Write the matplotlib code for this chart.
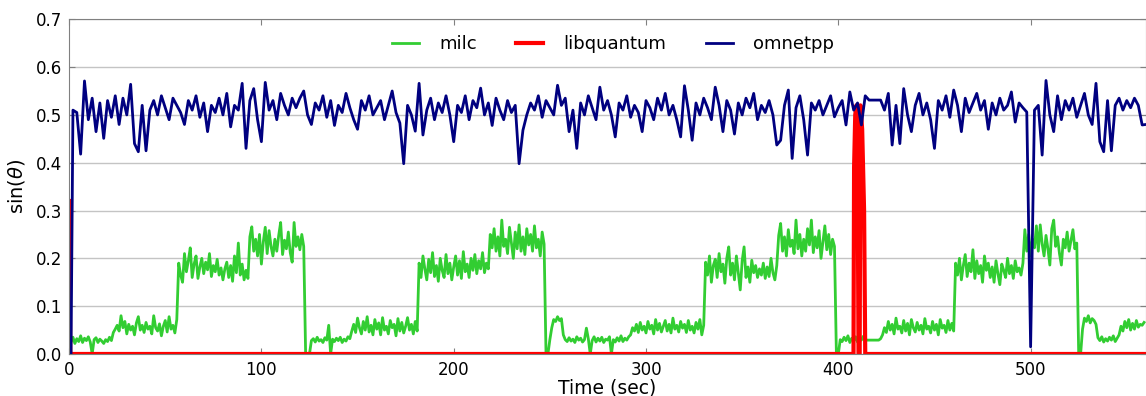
"""sin(theta) over time for three co-running SPEC workloads."""

import matplotlib
matplotlib.use("Agg")
import matplotlib.pyplot as plt
import numpy as np

# milc, one sample per second (t = 0 .. 559)
milc_vals = [
    0.030, 0.025, 0.035, 0.022, 0.032, 0.026, 0.038, 0.024, 0.033, 0.028, 0.036, 0.025, 0.000, 0.030, 0.034, 0.024, 0.031, 0.027, 0.022, 0.030,
    0.026, 0.035, 0.028, 0.045, 0.052, 0.060, 0.048, 0.080, 0.055, 0.068, 0.042, 0.062, 0.050, 0.058, 0.040, 0.065, 0.078, 0.050, 0.060, 0.045,
    0.066, 0.052, 0.058, 0.042, 0.080, 0.055, 0.048, 0.063, 0.038, 0.058, 0.070, 0.046, 0.078, 0.052, 0.060, 0.044, 0.072, 0.190, 0.165, 0.150,
    0.210, 0.172, 0.195, 0.222, 0.160, 0.188, 0.205, 0.158, 0.182, 0.200, 0.168, 0.192, 0.176, 0.210, 0.162, 0.185, 0.172, 0.198, 0.165, 0.180,
    0.155, 0.178, 0.192, 0.160, 0.185, 0.152, 0.205, 0.170, 0.232, 0.165, 0.188, 0.155, 0.175, 0.158, 0.245, 0.266, 0.215, 0.240, 0.205, 0.250,
    0.188, 0.235, 0.265, 0.210, 0.258, 0.225, 0.205, 0.240, 0.215, 0.248, 0.275, 0.208, 0.238, 0.220, 0.255, 0.212, 0.192, 0.275, 0.225, 0.245,
    0.218, 0.250, 0.225, 0.000, 0.000, 0.000, 0.028, 0.032, 0.025, 0.035, 0.027, 0.030, 0.024, 0.034, 0.029, 0.060, 0.000, 0.031, 0.026, 0.033,
    0.028, 0.035, 0.024, 0.031, 0.027, 0.036, 0.032, 0.048, 0.062, 0.045, 0.075, 0.055, 0.042, 0.068, 0.050, 0.078, 0.046, 0.060, 0.040, 0.072,
    0.052, 0.065, 0.040, 0.076, 0.050, 0.058, 0.042, 0.070, 0.055, 0.062, 0.038, 0.074, 0.048, 0.066, 0.044, 0.058, 0.076, 0.050, 0.062, 0.042,
    0.068, 0.048, 0.190, 0.160, 0.205, 0.178, 0.155, 0.198, 0.170, 0.212, 0.162, 0.185, 0.152, 0.200, 0.175, 0.160, 0.208, 0.168, 0.190, 0.155,
    0.182, 0.205, 0.165, 0.195, 0.158, 0.214, 0.172, 0.188, 0.160, 0.200, 0.175, 0.208, 0.168, 0.195, 0.178, 0.212, 0.170, 0.190, 0.178, 0.250,
    0.222, 0.262, 0.215, 0.245, 0.205, 0.280, 0.225, 0.240, 0.210, 0.265, 0.232, 0.200, 0.255, 0.220, 0.270, 0.215, 0.245, 0.208, 0.262, 0.228,
    0.250, 0.215, 0.268, 0.222, 0.240, 0.205, 0.255, 0.230, 0.000, 0.000, 0.030, 0.055, 0.072, 0.068, 0.078, 0.070, 0.074, 0.040, 0.030, 0.026,
    0.034, 0.027, 0.031, 0.024, 0.036, 0.029, 0.033, 0.025, 0.030, 0.054, 0.032, 0.000, 0.028, 0.036, 0.025, 0.033, 0.027, 0.035, 0.024, 0.031,
    0.029, 0.036, 0.000, 0.030, 0.025, 0.034, 0.027, 0.038, 0.026, 0.033, 0.029, 0.036, 0.040, 0.055, 0.048, 0.062, 0.045, 0.066, 0.050, 0.058,
    0.044, 0.068, 0.052, 0.060, 0.042, 0.072, 0.050, 0.064, 0.046, 0.058, 0.070, 0.048, 0.062, 0.044, 0.075, 0.052, 0.060, 0.046, 0.068, 0.054,
    0.062, 0.045, 0.070, 0.050, 0.058, 0.044, 0.066, 0.052, 0.072, 0.040, 0.060, 0.192, 0.165, 0.205, 0.150, 0.185, 0.198, 0.160, 0.210, 0.172,
    0.188, 0.148, 0.200, 0.224, 0.165, 0.190, 0.155, 0.205, 0.170, 0.134, 0.195, 0.224, 0.160, 0.182, 0.150, 0.196, 0.170, 0.185, 0.160, 0.178,
    0.165, 0.190, 0.158, 0.182, 0.162, 0.200, 0.170, 0.155, 0.185, 0.248, 0.273, 0.215, 0.245, 0.205, 0.260, 0.225, 0.238, 0.210, 0.280, 0.220,
    0.250, 0.205, 0.240, 0.215, 0.262, 0.228, 0.280, 0.212, 0.245, 0.222, 0.258, 0.200, 0.235, 0.268, 0.218, 0.250, 0.208, 0.240, 0.225, 0.000,
    0.000, 0.030, 0.026, 0.035, 0.028, 0.038, 0.024, 0.033, 0.027, 0.036, 0.025, 0.034, 0.029, 0.037, 0.030, 0.029, 0.029, 0.029, 0.029, 0.029,
    0.029, 0.029, 0.032, 0.040, 0.055, 0.045, 0.068, 0.050, 0.062, 0.042, 0.075, 0.052, 0.058, 0.044, 0.070, 0.048, 0.064, 0.040, 0.072, 0.055,
    0.046, 0.066, 0.050, 0.060, 0.042, 0.074, 0.052, 0.058, 0.044, 0.068, 0.050, 0.062, 0.040, 0.072, 0.054, 0.060, 0.045, 0.070, 0.050, 0.064,
    0.048, 0.190, 0.165, 0.200, 0.155, 0.185, 0.208, 0.162, 0.190, 0.172, 0.218, 0.158, 0.195, 0.168, 0.185, 0.150, 0.205, 0.175, 0.190, 0.160,
    0.182, 0.150, 0.195, 0.168, 0.145, 0.188, 0.175, 0.160, 0.200, 0.168, 0.185, 0.158, 0.195, 0.172, 0.180, 0.165, 0.190, 0.260, 0.215, 0.250,
    0.205, 0.240, 0.222, 0.268, 0.215, 0.270, 0.230, 0.205, 0.248, 0.220, 0.186, 0.262, 0.280, 0.225, 0.245, 0.210, 0.186, 0.240, 0.222, 0.255,
    0.215, 0.238, 0.260, 0.220, 0.232, 0.000, 0.000, 0.052, 0.075, 0.068, 0.080, 0.065, 0.074, 0.070, 0.062, 0.034, 0.028, 0.036, 0.025, 0.032,
    0.027, 0.035, 0.029, 0.038, 0.026, 0.033, 0.040, 0.058, 0.048, 0.068, 0.055, 0.072, 0.050, 0.064, 0.052, 0.070, 0.056, 0.062, 0.060, 0.066,
]
milc_t = np.arange(len(milc_vals))

# omnetpp, starts at t = 1 s, then one sample every 2 s (t = 2 .. 560)
omnetpp_vals = [
    0.00, 0.51, 0.505, 0.418, 0.571, 0.49, 0.535, 0.465, 0.525, 0.451, 0.53, 0.495, 0.54, 0.48, 0.535, 0.50, 0.564, 0.44, 0.423, 0.52,
    0.425, 0.51, 0.53, 0.50, 0.54, 0.515, 0.49, 0.535, 0.52, 0.505, 0.48, 0.53, 0.51, 0.54, 0.495, 0.525, 0.465, 0.52, 0.505, 0.535,
    0.50, 0.545, 0.475, 0.52, 0.51, 0.566, 0.43, 0.53, 0.555, 0.49, 0.444, 0.568, 0.51, 0.53, 0.49, 0.545, 0.52, 0.50, 0.535, 0.515,
    0.535, 0.55, 0.50, 0.48, 0.525, 0.51, 0.54, 0.495, 0.53, 0.478, 0.52, 0.505, 0.545, 0.515, 0.49, 0.47, 0.53, 0.51, 0.54, 0.50,
    0.515, 0.53, 0.49, 0.52, 0.55, 0.505, 0.483, 0.398, 0.52, 0.50, 0.466, 0.566, 0.458, 0.51, 0.535, 0.49, 0.525, 0.505, 0.54, 0.50,
    0.444, 0.52, 0.505, 0.54, 0.49, 0.53, 0.515, 0.556, 0.50, 0.525, 0.478, 0.535, 0.51, 0.49, 0.53, 0.505, 0.52, 0.398, 0.468, 0.50,
    0.525, 0.51, 0.54, 0.495, 0.53, 0.515, 0.50, 0.562, 0.52, 0.535, 0.465, 0.51, 0.43, 0.525, 0.50, 0.54, 0.515, 0.49, 0.558, 0.51,
    0.53, 0.50, 0.454, 0.525, 0.51, 0.54, 0.495, 0.52, 0.505, 0.465, 0.53, 0.515, 0.49, 0.535, 0.51, 0.545, 0.50, 0.52, 0.49, 0.454,
    0.561, 0.51, 0.447, 0.525, 0.50, 0.535, 0.515, 0.49, 0.558, 0.52, 0.465, 0.53, 0.51, 0.46, 0.525, 0.50, 0.535, 0.515, 0.545, 0.49,
    0.52, 0.505, 0.53, 0.50, 0.437, 0.447, 0.52, 0.552, 0.409, 0.515, 0.54, 0.49, 0.416, 0.525, 0.51, 0.53, 0.50, 0.52, 0.54, 0.496,
    0.515, 0.53, 0.479, 0.548, 0.51, 0.525, 0.479, 0.54, 0.531, 0.531, 0.531, 0.531, 0.51, 0.545, 0.437, 0.52, 0.44, 0.555, 0.50, 0.465,
    0.52, 0.545, 0.50, 0.525, 0.49, 0.43, 0.53, 0.51, 0.54, 0.495, 0.552, 0.52, 0.465, 0.535, 0.505, 0.525, 0.545, 0.51, 0.53, 0.47,
    0.525, 0.50, 0.535, 0.51, 0.52, 0.548, 0.485, 0.525, 0.515, 0.506, 0.015, 0.51, 0.52, 0.416, 0.572, 0.50, 0.465, 0.54, 0.49, 0.53,
    0.51, 0.535, 0.495, 0.52, 0.545, 0.50, 0.48, 0.566, 0.444, 0.423, 0.53, 0.425, 0.52, 0.535, 0.51, 0.53, 0.515, 0.535, 0.52, 0.479,
    0.48,
]
omnetpp_t = np.r_[1.0, np.arange(1, len(omnetpp_vals)) * 2]

# libquantum is flat at zero apart from two short bursts
libq_t = [0.0, 0.6, 407.9, 408.2, 408.8, 409.4, 410.0, 410.5, 411.1, 411.5, 412.4, 413.4, 414.0, 560.0]
libq_vals = [0.32, 0.0, 0.0, 0.39, 0.50, 0.52, 0.43, 0.0, 0.0, 0.52, 0.47, 0.30, 0.0, 0.0]

series_names = ["milc", "libquantum", "omnetpp"]
series_colors = ["#32cd32", "red", "navy"]
x_ticks = [0, 100, 200, 300, 400, 500]
y_ticks = [0.0, 0.1, 0.2, 0.3, 0.4, 0.5, 0.6, 0.7]


def main():
    fig = plt.figure(figsize=(11.46, 3.96), dpi=100)
    ax = fig.add_axes([0.0603, 0.1061, 0.9397, 0.8452])

    ax.plot(milc_t, milc_vals, color=series_colors[0], lw=2, label=series_names[0])
    ax.plot(libq_t, libq_vals, color=series_colors[1], lw=3, label=series_names[1])
    ax.plot(omnetpp_t, omnetpp_vals, color=series_colors[2], lw=2, label=series_names[2])

    ax.set_xlim(0, 560)
    ax.set_ylim(0, 0.7)
    ax.set_xticks(x_ticks)
    ax.set_yticks(y_ticks)
    ax.set_yticklabels([f"{v:.1f}" for v in y_ticks])
    ax.yaxis.grid(True, color="#c4c4c4", lw=1, ls="-")
    ax.set_axisbelow(True)
    ax.tick_params(direction="in", top=True, right=True, labelsize=12,
                   length=4, color="#808080", pad=5)
    for s in ax.spines.values():
        s.set_color("#808080")

    ax.set_xlabel("Time (sec)", fontsize=13.5, labelpad=0)
    ax.set_ylabel(r"sin($\theta$)", fontsize=14, labelpad=6)
    ax.legend(loc="center", bbox_to_anchor=(0.505, 0.926), ncol=3, frameon=False,
              fontsize=13, handlelength=1.5, handletextpad=1.1, columnspacing=2.2)

    fig.savefig("out.png", dpi=100)


if __name__ == "__main__":
    main()
